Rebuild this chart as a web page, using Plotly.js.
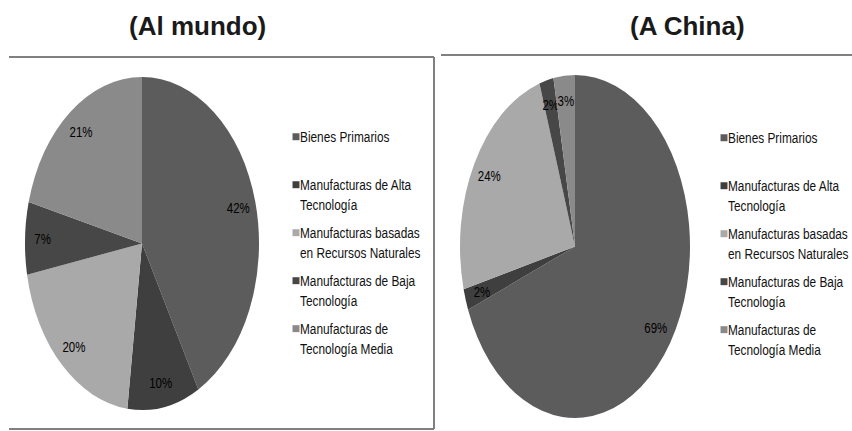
<!DOCTYPE html>
<html><head><meta charset="utf-8">
<script src="https://cdn.plot.ly/plotly-3.0.1.min.js"></script>
<style>
html,body{margin:0;padding:0;background:#fff;}
#chart{width:852px;height:431px;}
/* condensed legend text (Arial Narrow look) and small legend squares */
#chart text[class*="legend"]{
  transform-box: fill-box !important;
  transform-origin: 0 0 !important;
  transform: translate(-3px, 1px) scale(0.685, 0.867) !important;
}
#chart .legendpoints path{
  transform-box: view-box !important;
  transform-origin: 0 0 !important;
  transform: translate(33px, 0px) scale(0.58) !important;
}
</style>
</head><body><div id="chart"></div>
<script>
// ---- data ----
const categories = [
  "Bienes Primarios",
  "Manufacturas de Alta<br>Tecnología",
  "Manufacturas basadas<br>en Recursos Naturales",
  "Manufacturas de Baja<br>Tecnología",
  "Manufacturas de<br>Tecnología Media"
];
const worldShares = [42, 10, 20, 7, 21];
const chinaShares = [69, 2, 24, 2, 3];
const sliceColors = ["#5c5c5c", "#3f3f3f", "#a9a9a9", "#474747", "#8a8a8a"];
const panelTitles = ["(Al mundo)", "(A China)"];

// ---- styling / geometry (not data) ----
const W = 852, H = 431;
const SANS = "Liberation Sans, Arial, sans-serif";
const ellipses = [
  {cx: 142, cy: 243.5, rx: 117, ry: 166.5},
  {cx: 575, cy: 246.5, rx: 115, ry: 171.5}
];
const labelFrac = 0.85;
const NARROW_X = 0.82;
const LEG_FS = 17.3;
const px = v => v / W, py = v => 1 - v / H;
// legend slots: every entry two lines tall
const legendLabels = categories.map(c => c.indexOf("<br>") >= 0 ? c : c + "<br>\u00a0");

function pieTrace(values, domainX, legendId, group) {
  return {
    type: "pie",
    labels: legendLabels,
    values: values,
    sort: false,
    direction: "clockwise",
    rotation: 0,
    marker: {colors: sliceColors, line: {width: 0}},
    textinfo: "percent",
    texttemplate: "%{percent:.0%}",
    textposition: "inside",
    insidetextorientation: "horizontal",
    textfont: {family: SANS, size: 14, color: "#000"},
    insidetextfont: {family: SANS, size: 14, color: "#000"},
    domain: {x: domainX, y: [0.1, 0.9]},
    legend: legendId,
    legendgroup: group,
    automargin: false,
    hoverinfo: "none"
  };
}

const data = [
  pieTrace(worldShares, [0.0, 0.33], "legend", "world"),
  pieTrace(chinaShares, [0.5, 0.83], "legend2", "china")
];

const lineStyle = {color: "#808080", width: 2};
const legendBase = {
  font: {family: SANS, size: LEG_FS, color: "#111"},
  bgcolor: "rgba(0,0,0,0)",
  valign: "top",
  xanchor: "left",
  yanchor: "top",
  traceorder: "normal"
};

const titleFont = {family: SANS, size: 26, color: "#1a1a1a", weight: "bold"};
const layout = {
  width: W, height: H,
  margin: {l: 0, r: 0, t: 0, b: 0, autoexpand: false},
  paper_bgcolor: "#fff",
  showlegend: true,
  legend: Object.assign({x: px(263), y: py(119)}, legendBase),
  legend2: Object.assign({x: px(691), y: py(120)}, legendBase),
  annotations: [
    {text: panelTitles[0], xref: "paper", yref: "paper", x: px(197), y: py(26), showarrow: false,
     xanchor: "center", yanchor: "middle", font: titleFont},
    {text: panelTitles[1], xref: "paper", yref: "paper", x: px(687), y: py(26), showarrow: false,
     xanchor: "center", yanchor: "middle", font: titleFont}
  ],
  shapes: [
    {type: "line", xref: "paper", yref: "paper", x0: px(9), x1: px(434), y0: py(57), y1: py(57), line: lineStyle},
    {type: "line", xref: "paper", yref: "paper", x0: px(434), x1: px(434), y0: py(57), y1: py(429), line: lineStyle},
    {type: "line", xref: "paper", yref: "paper", x0: px(9), x1: px(434), y0: py(429), y1: py(429), line: lineStyle},
    {type: "line", xref: "paper", yref: "paper", x0: px(441), x1: px(852), y0: py(55), y1: py(55), line: lineStyle}
  ]
};

const gd = document.getElementById("chart");

function reshape() {
  if (!gd.calcdata) return;
  const traces = gd.querySelectorAll(".pielayer .trace");
  traces.forEach((tr, i) => {
    const cd = gd.calcdata[i];
    if (!cd) return;
    const cd0 = cd[0];
    const g = ellipses[i];
    const sx = g.rx / cd0.r, sy = g.ry / cd0.r;
    const T = "translate(" + g.cx + "," + g.cy + ") scale(" + sx + "," + sy + ") translate(" + (-cd0.cx) + "," + (-cd0.cy) + ")";
    tr.querySelectorAll("path.surface").forEach(p => p.setAttribute("transform", T));
    const vals = i === 0 ? worldShares : chinaShares;
    const total = vals.reduce((a, b) => a + b, 0);
    let cum = 0;
    tr.querySelectorAll("g.slice").forEach((s, j) => {
      const pt = s.__data__;
      let mx, my;
      if (pt && pt.pxmid) {
        mx = pt.pxmid[0] / cd0.r; my = pt.pxmid[1] / cd0.r;
      } else {
        const a = 2 * Math.PI * (cum + vals[j] / 2) / total;
        mx = Math.sin(a); my = -Math.cos(a);
      }
      cum += vals[j];
      const t = s.querySelector("text");
      if (!t) return;
      t.setAttribute("transform", "");
      const bb = t.getBBox();
      const bx = bb.x + bb.width / 2, by = bb.y + bb.height / 2;
      const tx = g.cx + mx * g.rx * labelFrac;
      const ty = g.cy + my * g.ry * labelFrac;
      t.setAttribute("transform", "translate(" + tx + "," + ty + ") scale(" + NARROW_X + ",1) translate(" + (-bx) + "," + (-by) + ")");
    });
  });
  gd.querySelectorAll("[clip-path*='legend']").forEach(el => el.removeAttribute("clip-path"));
}

const observer = new MutationObserver(() => reshape());
observer.observe(gd, {childList: true, subtree: true});

Plotly.newPlot(gd, data, layout, {staticPlot: true, displayModeBar: false}).then(() => {
  reshape();
  gd.on("plotly_afterplot", reshape);
  requestAnimationFrame(reshape);
});
</script>
</body></html>
